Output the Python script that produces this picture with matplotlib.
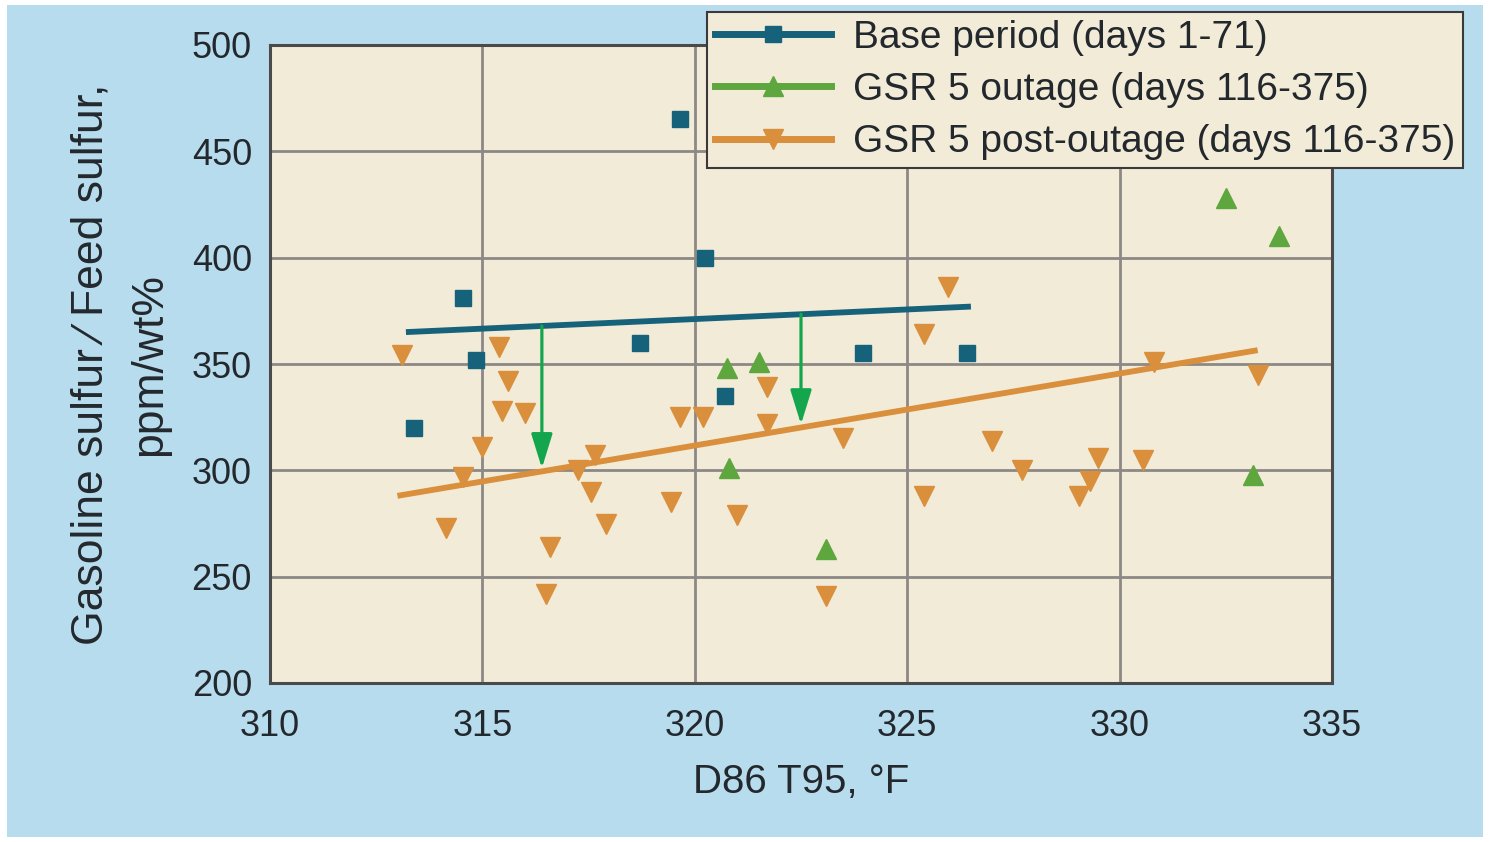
import matplotlib
matplotlib.use("Agg")
import matplotlib.pyplot as plt
import numpy as np
from matplotlib.lines import Line2D
from matplotlib.patches import Rectangle

plt.rcParams['font.family'] = ['Liberation Sans', 'DejaVu Sans']

# base period (days 1-71)
base_x = [313.4, 314.55, 314.85, 318.7, 319.65, 320.25, 320.7, 323.95, 326.4]
base_y = [320, 381, 352, 360, 465, 400, 335, 355, 355]

# GSR 5 outage
out_x = [320.75, 321.5, 320.8, 323.1, 333.15, 332.5, 333.75]
out_y = [348, 351, 301, 263, 298, 428, 410]

# GSR 5 post-outage
post_x = [313.1, 315.4, 315.6, 315.45, 316.0, 315.0, 314.55, 314.15, 316.6, 316.5,
          317.65, 317.25, 317.55, 317.9, 319.45, 319.65, 320.2, 321.0, 321.7, 321.7,
          323.5, 323.1, 325.95, 325.4, 325.4, 327.0, 327.7, 329.5, 329.3, 329.05,
          330.55, 330.8, 333.25]
post_y = [354, 358, 342, 328, 327, 311, 297, 273, 264, 242,
          307, 300, 290, 275, 285, 325, 325, 279, 339, 322,
          315, 241, 386, 364, 288, 314, 300, 306, 295, 288,
          305, 351, 345]

# trend lines (endpoints)
base_fit_x = [313.2, 326.5]
base_fit_y = [365, 377]
post_fit_x = [313.0, 333.25]
post_fit_y = [288, 356.5]

# where the drop arrows sit
arrow_x = [316.4, 322.5]

teal = "#16627a"
green = "#5ea63e"
orange = "#d98f3c"
arrow_green = "#14a64c"
txt = "#23282d"

fig = plt.figure(figsize=(14.89, 8.42), dpi=100, facecolor="white")
bg = Rectangle((7 / 1489, 5 / 842), 1476 / 1489, 832 / 842,
               transform=fig.transFigure, facecolor="#b7dcee",
               edgecolor="none", zorder=-10)
fig.patches.append(bg)

ax = fig.add_axes([270 / 1489, 1 - 683 / 842, 1062 / 1489, 638 / 842])
ax.set_facecolor("#f2ebd8")

ax.plot(base_fit_x, base_fit_y, color=teal, lw=4.2, solid_capstyle="butt", zorder=3)
ax.plot(post_fit_x, post_fit_y, color=orange, lw=4.2, solid_capstyle="butt", zorder=3)

for xa in arrow_x:
    y0 = np.interp(xa, base_fit_x, base_fit_y)
    y1 = np.interp(xa, post_fit_x, post_fit_y)
    ax.annotate("", xy=(xa, y1 + 1.5), xytext=(xa, y0),
                arrowprops=dict(arrowstyle="-|>,head_length=2.1,head_width=0.65",
                                color=arrow_green, lw=2.3, shrinkA=0, shrinkB=0),
                zorder=4)

ax.plot(base_x, base_y, ls="none", marker="s", ms=11.5, color=teal, zorder=5)
ax.plot(out_x, out_y, ls="none", marker="^", ms=15, color=green, zorder=5)
ax.plot(post_x, post_y, ls="none", marker="v", ms=15, color=orange, zorder=5)

ax.set_xlim(310, 335)
ax.set_ylim(200, 500)
ax.set_xticks(np.arange(310, 336, 5))
ax.set_yticks(np.arange(200, 501, 50))
ax.grid(True, color="#8c8886", lw=2.0, zorder=1)
ax.set_axisbelow(True)
ax.tick_params(length=0, labelsize=26, labelcolor=txt)
ax.tick_params(axis="x", pad=19)
ax.tick_params(axis="y", pad=13)
for s in ax.spines.values():
    s.set_color("#4a4a4a")
    s.set_linewidth(2.2)

ax.set_xlabel("D86 T95, \u00b0F", fontsize=29, color=txt)
ax.xaxis.set_label_coords(0.5, -0.125)
ax.set_ylabel("Gasoline sulfur \u2044 Feed sulfur,\nppm/wt%", fontsize=32,
              color=txt, linespacing=1.55)
ax.yaxis.set_label_coords(-0.094, 0.5)

handles = [
    Line2D([], [], color=teal, lw=5, marker="s", ms=11),
    Line2D([], [], color=green, lw=5, marker="^", ms=14),
    Line2D([], [], color=orange, lw=5, marker="v", ms=14),
]
labels = ["Base period (days 1-71)", "GSR 5 outage (days 116-375)",
          "GSR 5 post-outage (days 116-375)"]
leg = fig.legend(handles, labels, loc="upper left",
                 bbox_to_anchor=(707 / 1489, 1 - 12 / 842),
                 fontsize=28, frameon=True, fancybox=False, handlelength=3.0,
                 borderpad=0.2, labelspacing=0.42, handletextpad=0.55,
                 borderaxespad=0)
leg.get_frame().set_facecolor("#f2ebd8")
leg.get_frame().set_edgecolor("#3a3a3a")
leg.get_frame().set_linewidth(1.5)
leg.get_frame().set_alpha(1)
for t in leg.get_texts():
    t.set_color(txt)

fig.savefig("out.png", dpi=100)
